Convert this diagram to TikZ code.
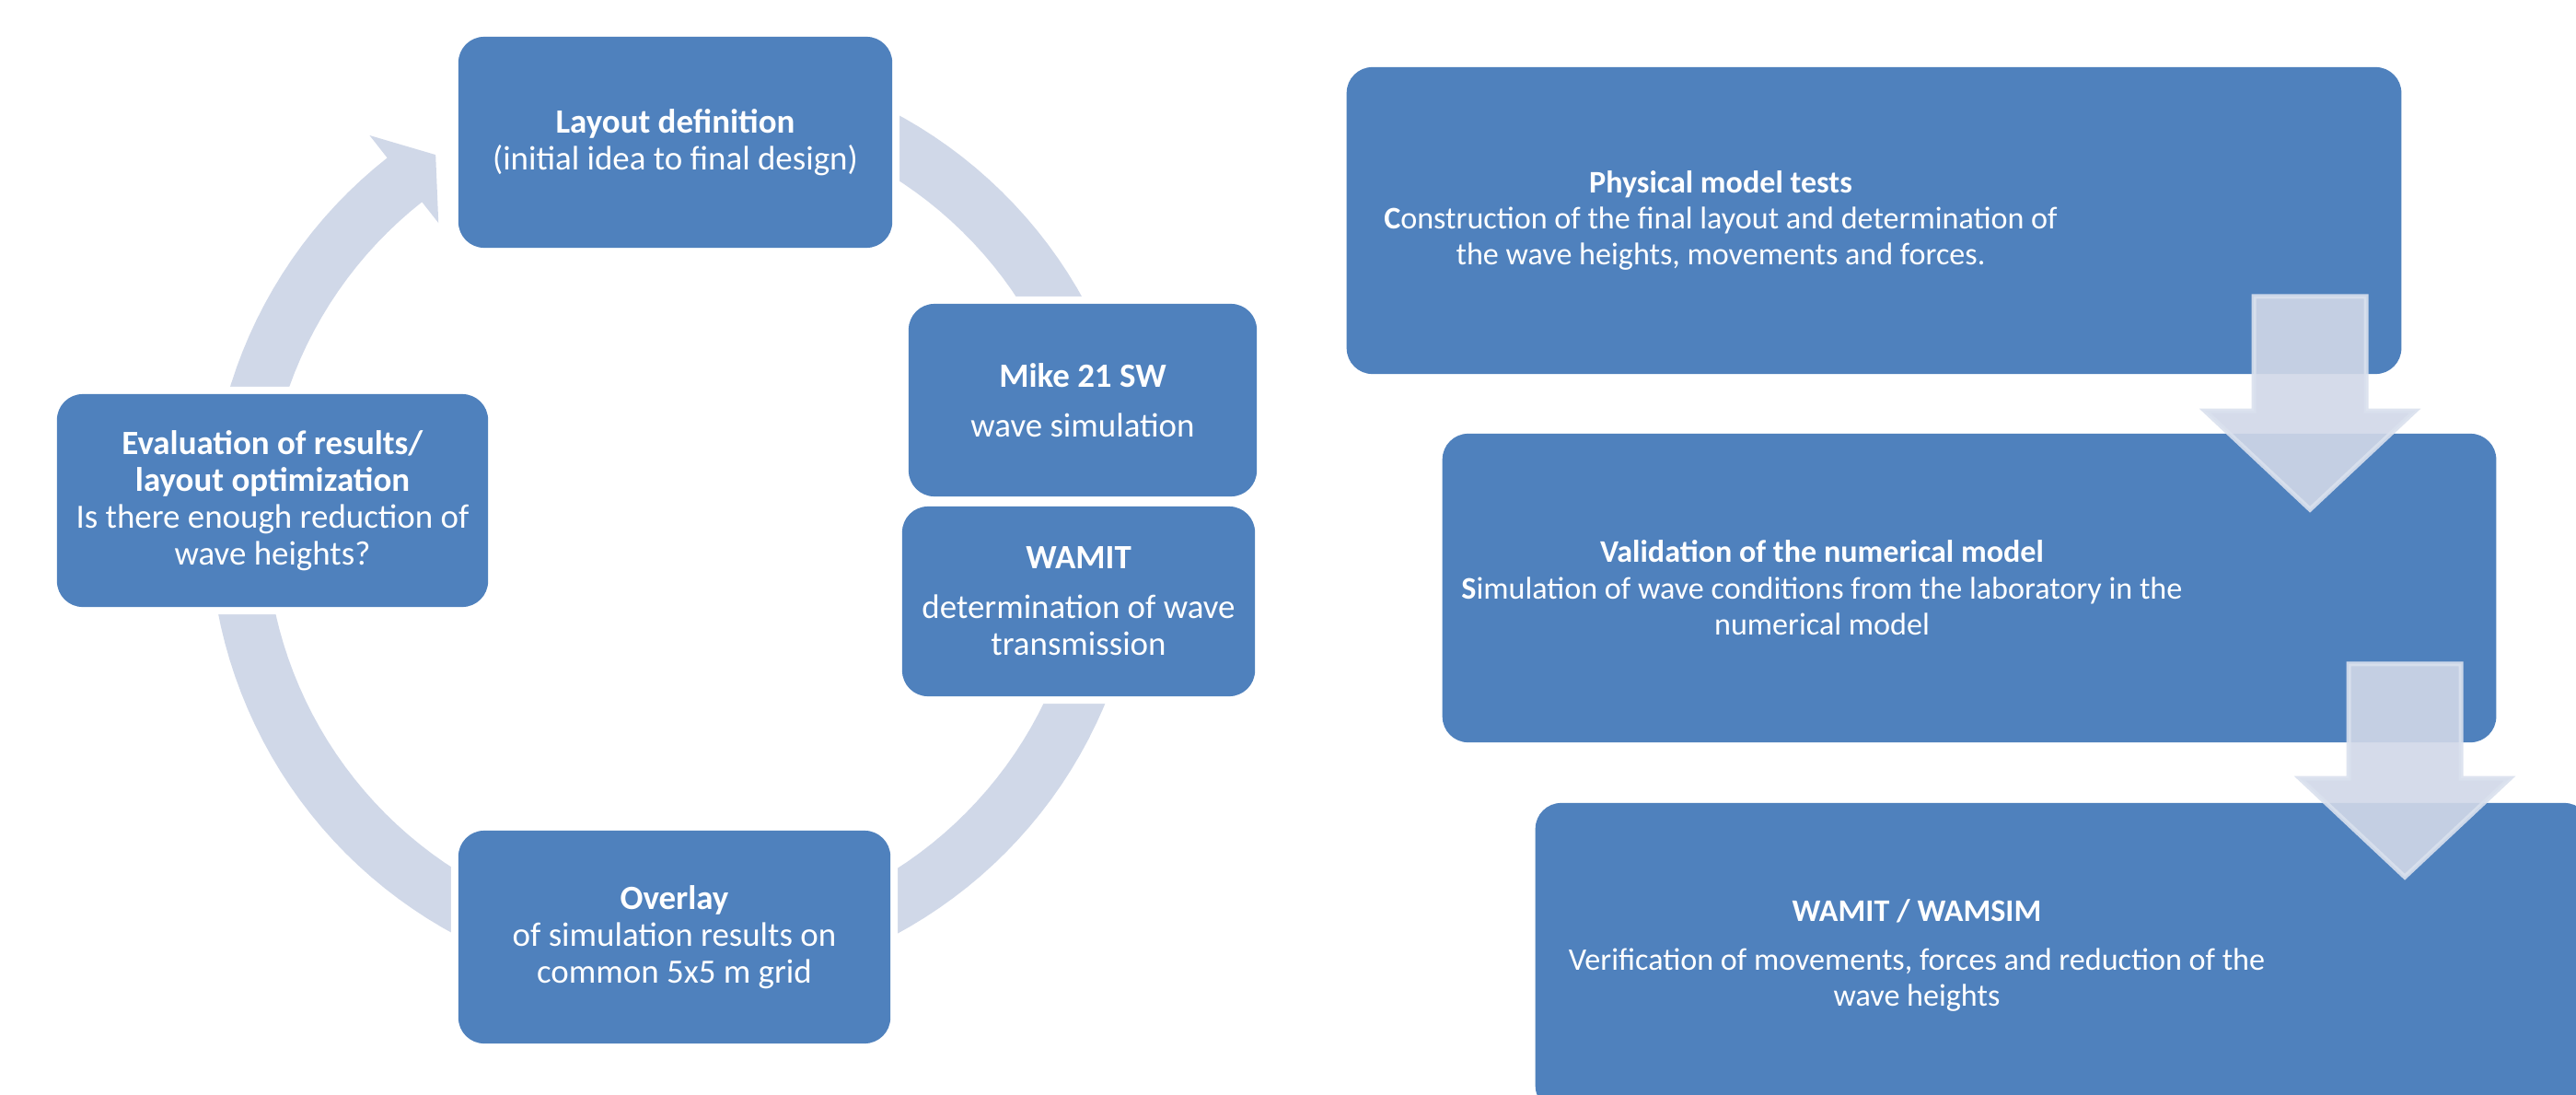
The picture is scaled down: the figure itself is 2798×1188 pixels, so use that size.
\documentclass[tikz,border=0pt]{standalone}
\usepackage{fontspec}
\setmainfont{Carlito}
\usetikzlibrary{calc}
\definecolor{boxblue}{RGB}{79,129,189}
\definecolor{ringc}{RGB}{208,216,232}
\definecolor{arrfill}{RGB}{209,216,232}
\definecolor{arrline}{RGB}{218,225,238}
\begin{document}
\begin{tikzpicture}[x=0.01cm, y=-0.01cm,
  cyclebox/.style={rectangle, rounded corners=0.28cm, fill=boxblue,
    preaction={draw=white, line width=0.16cm}, inner sep=0pt, text=white,
    align=center, font=\fontsize{10.5pt}{11.4pt}\selectfont},
  flowbox/.style={rectangle, rounded corners=0.28cm, fill=boxblue, inner sep=0pt},
  flowtext/.style={text=white, align=center, inner sep=0pt,
    font=\fontsize{9.7pt}{11.2pt}\selectfont},
  downarrow/.style={fill=arrfill, fill opacity=0.9, draw=arrline, draw opacity=0.9,
    line width=0.05cm, line join=miter}
]
\useasboundingbox (0,0) rectangle (2798,1188);
\clip (0,0) rectangle (2798,1188);
\fill[white] (0,0) rectangle (2798,1188);

% ---- cycle ring with arrow head ----
\coordinate (cc) at (733.5,569);
\fill[ringc]
  plot[domain=-110:231.8, samples=160, variable=\t] ({733.5+506*cos(\t)},{569+506*sin(\t)})
  -- ($(cc)+(231.8:537)$) -- ($(cc)+(237:478)$) -- ($(cc)+(231.8:416)$) -- ($(cc)+(231.8:445)$)
  -- plot[domain=231.8:-110, samples=160, variable=\t] ({733.5+445*cos(\t)},{569+445*sin(\t)})
  -- cycle;

% ---- cycle boxes ----
\node[cyclebox, minimum width=4.71cm, minimum height=2.29cm] (layout) at (733.5,154.5)
  {\textbf{Layout definition}\\(initial idea to final design)};
\node[cyclebox, minimum width=3.78cm, minimum height=2.09cm] (mike) at (1176,434.5)
  {\textbf{Mike 21 SW}\\[4pt]wave simulation};
\node[cyclebox, minimum width=3.83cm, minimum height=2.06cm] (wamit) at (1171.5,653)
  {\textbf{WAMIT}\\[4pt]determination of wave\\transmission};
\node[cyclebox, minimum width=4.69cm, minimum height=2.31cm] (overlay) at (732.5,1017.5)
  {\textbf{Overlay}\\of simulation results on\\common 5x5 m grid};
\node[cyclebox, minimum width=4.68cm, minimum height=2.31cm] (eval) at (296,543.5)
  {\textbf{Evaluation of results/}\\\textbf{layout optimization}\\Is there enough reduction of\\wave heights?};

% ---- flow boxes ----
\node[flowbox, minimum width=11.45cm, minimum height=3.33cm] (phys) at (2035.5,239.5) {};
\node[flowtext] (physT) at ($(phys.west)+(407,0)$)
  {\textbf{Physical model tests}\\\textbf{C}onstruction of the final layout and determination of\\the wave heights, movements and forces.};
\node[flowbox, minimum width=11.44cm, minimum height=3.35cm] (valid) at (2139,638.5) {};
\node[flowtext] (validT) at ($(valid.west)+(413,0)$)
  {\textbf{Validation of the numerical model}\\\textbf{S}imulation of wave conditions from the laboratory in the\\numerical model};
\node[flowbox, minimum width=11.45cm, minimum height=3.35cm] (wamsim) at (2240.5,1039.5) {};
\node[flowtext] (wamsimT) at ($(wamsim.west)+(415,-2)$)
  {\textbf{WAMIT / WAMSIM}\\[4pt]Verification of movements, forces and reduction of the\\wave heights};

% ---- down arrows ----
\coordinate (a1s) at ($(phys.south east)+(-100,-85)$);
\coordinate (a1t) at ($(valid.north -| a1s)+(0,83)$);
\draw[downarrow] ($(a1s)+(-61,0)$) -- ($(a1s)+(61,0)$) -- ($(a1t)+(61,-107)$)
  -- ($(a1t)+(114,-107)$) -- (a1t) -- ($(a1t)+(-114,-107)$) -- ($(a1t)+(-61,-107)$) -- cycle;
\coordinate (a2s) at ($(valid.south east)+(-100,-86)$);
\coordinate (a2t) at ($(wamsim.north -| a2s)+(0,81)$);
\draw[downarrow] ($(a2s)+(-61,0)$) -- ($(a2s)+(61,0)$) -- ($(a2t)+(61,-107)$)
  -- ($(a2t)+(114,-107)$) -- (a2t) -- ($(a2t)+(-114,-107)$) -- ($(a2t)+(-61,-107)$) -- cycle;
\end{tikzpicture}
\end{document}
